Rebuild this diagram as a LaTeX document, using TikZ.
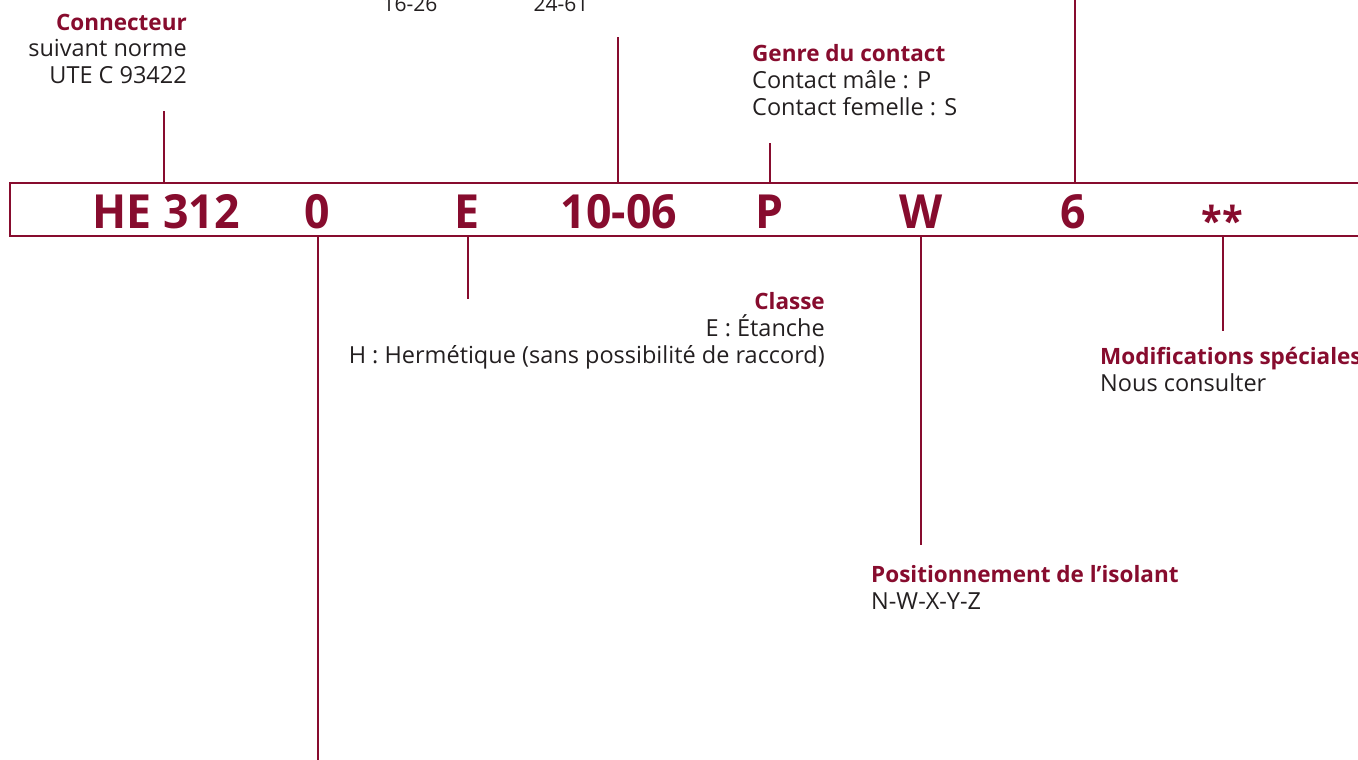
\documentclass[tikz,border=0pt]{standalone}
\usepackage{fontspec}
\setmainfont{Open Sans}
\newfontfamily\codefont[FakeStretch=0.95]{Open Sans}
\usetikzlibrary{positioning, calc}

\definecolor{bordeaux}{RGB}{135,12,46}
\definecolor{texte}{RGB}{35,31,32}

\tikzset{
  code/.style={text=bordeaux, font=\codefont\bfseries\fontsize{47}{47}\selectfont, anchor=base, inner sep=0pt},
  label/.style={text=texte, font=\fontsize{23.5}{27}\selectfont, inner sep=0pt},
  lead/.style={draw=bordeaux, line width=2.4pt},
  band/.style={draw=bordeaux, line width=2.4pt}
}
\newcommand{\titre}[1]{\textcolor{bordeaux}{\bfseries\fontsize{22.5}{27}\selectfont #1}}

\begin{document}
\begin{tikzpicture}[x=1pt, y=-1pt]
  \useasboundingbox (0,0) rectangle (1358,760);
  \clip (0,0) rectangle (1358,760);

  % Band
  \coordinate (bandtl) at (10,183);
  \coordinate (bandbl) at (10,236);
  \draw[band] (1370,183) -- (bandtl) -- (bandbl) -- (1370,236);

  % Codes
  \node[code] (he) at (166,228) {HE 312};
  \node[code] (zero) at (317,228) {0};
  \node[code] (classe) at (467,228) {E};
  \node[code] (taille) at (619,228) {10-06};
  \node[code] (genre) at (770,228) {P};
  \node[code] (pos) at (921,228) {W};
  \node[code] (six) at (1073,228) {6};
  \node[code, font=\codefont\bfseries\fontsize{40}{40}\selectfont] (mod) at (1222,235) {**};

  % Labels (anchored on the baseline of their last line)
  \node[label, align=right, anchor=base east] (lconn) at (187,84)
    {\titre{Connecteur}\\suivant norme\\UTE C 93422};
  \node[label, font=\fontsize{21}{27}\selectfont, anchor=base] (ltaille1) at (410,12) {16-26};
  \node[label, font=\fontsize{21}{27}\selectfont, anchor=base] (ltaille2) at (561,12) {24-61};
  \node[label, align=left, anchor=base west] (lgenre) at (752,115)
    {\titre{Genre du contact}\\Contact mâle : P\\Contact femelle : S};
  \node[label, align=right, anchor=base east] (lclasse) at (825,363)
    {\titre{Classe}\\E : Étanche\\H : Hermétique (sans possibilité de raccord)};
  \node[label, align=left, anchor=base west] (lmod) at (1100,391)
    {\titre{Modifications spéciales}\\Nous consulter};
  \node[label, align=left, anchor=base west] (lpos) at (871,609)
    {\titre{Positionnement de l’isolant}\\N-W-X-Y-Z};

  % Leads above
  \coordinate (econn) at (164,111);
  \coordinate (etaille) at (618,37);
  \coordinate (egenre) at (770,143);
  \coordinate (esix) at (1075,-5);
  \draw[lead] (econn |- bandtl) -- (econn);
  \draw[lead] (etaille |- bandtl) -- (etaille);
  \draw[lead] (egenre |- bandtl) -- (egenre);
  \draw[lead] (esix |- bandtl) -- (esix);

  % Leads below
  \coordinate (ezero) at (318,765);
  \coordinate (eclasse) at (468,299);
  \coordinate (epos) at (921,545);
  \coordinate (emod) at (1223,331);
  \draw[lead] (ezero |- bandbl) -- (ezero);
  \draw[lead] (eclasse |- bandbl) -- (eclasse);
  \draw[lead] (epos |- bandbl) -- (epos);
  \draw[lead] (emod |- bandbl) -- (emod);
\end{tikzpicture}
\end{document}
